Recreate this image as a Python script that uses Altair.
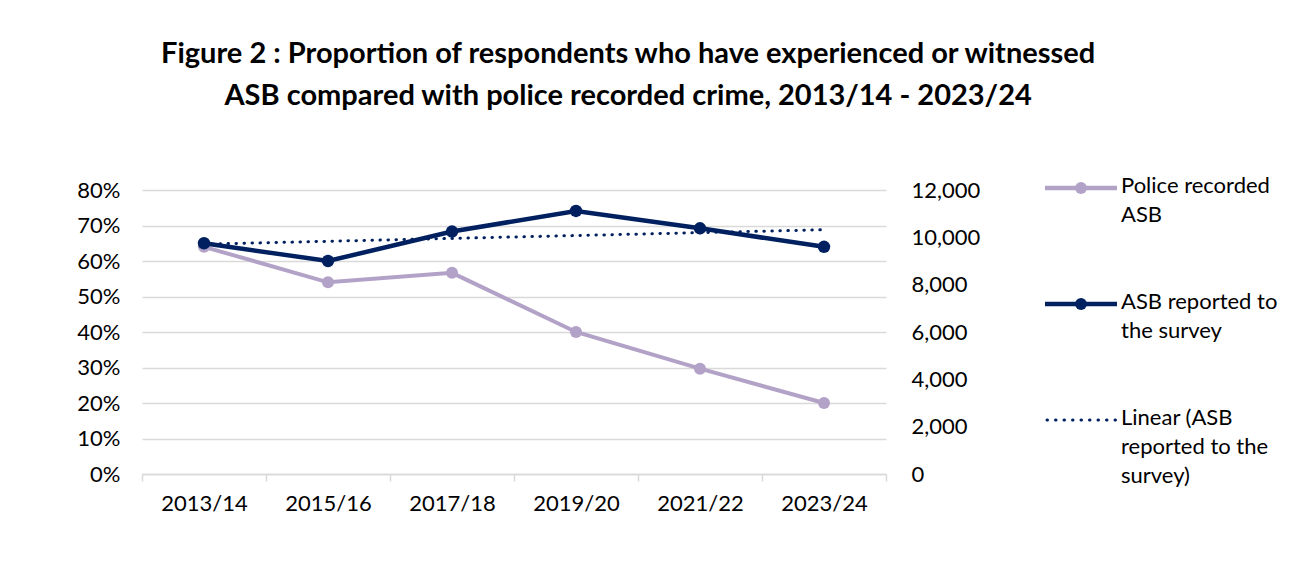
import altair as alt
import pandas as pd

# ---- data ----
years = ["2013/14", "2015/16", "2017/18", "2019/20", "2021/22", "2023/24"]
survey_share = [0.650, 0.600, 0.683, 0.741, 0.692, 0.640]   # left axis (%)
police_asb = [9600, 8100, 8500, 6000, 4450, 3000]            # right axis (count)
left_ticks = [0, 0.1, 0.2, 0.3, 0.4, 0.5, 0.6, 0.7, 0.8]
right_ticks = [0, 2000, 4000, 6000, 8000, 10000, 12000]
legend_keys = ["police", "survey", "trend"]
legend_labels = ["Police recorded\nASB", "ASB reported to\nthe survey",
                 "Linear (ASB\nreported to the\nsurvey)"]
title_lines = ["Figure 2 : Proportion of respondents who have experienced or witnessed",
               "ASB compared with police recorded crime, 2013/14 - 2023/24"]

FONT = "Lato"
NAVY = "#002060"
LAV = "#B3A2C7"
GRID = "#D9D9D9"
TXT = "#000000"

df = pd.DataFrame({"year": years, "idx": list(range(len(years))),
                   "survey": survey_share, "police": police_asb})

x_enc = alt.X(
    "year:N", sort=years, bandPosition=0.5,
    scale=alt.Scale(type="band", paddingInner=0, paddingOuter=0),
    axis=alt.Axis(title=None, labelAngle=0, tickBand="extent", domainColor=GRID,
                  domainWidth=1.5, tickColor=GRID, tickWidth=1.5, tickSize=7,
                  labelPadding=12, labelFontSize=22, labelFont=FONT, labelColor=TXT,
                  grid=False),
)

y_left = alt.Y(
    "survey:Q", scale=alt.Scale(domain=[0, 0.8], nice=False),
    axis=alt.Axis(title=None, orient="left", values=left_ticks, format=".0%", grid=True,
                  gridColor=GRID, gridWidth=1.3, domain=False, ticks=False,
                  labelPadding=22, labelFontSize=22, labelFont=FONT, labelColor=TXT),
)

y_right = alt.Y(
    "police:Q", scale=alt.Scale(domain=[0, 12000], nice=False),
    axis=alt.Axis(title=None, orient="right", values=right_ticks, format=",.0f", grid=False,
                  domain=False, ticks=False, labelPadding=25, labelFontSize=22,
                  labelFont=FONT, labelColor=TXT),
)

police_layer = alt.Chart(df).mark_line(
    color=LAV, strokeWidth=4,
    point=alt.OverlayMarkDef(color=LAV, size=145, filled=True, opacity=1),
).encode(x=x_enc, y=y_right)

survey_layer = alt.Chart(df).mark_line(
    color=NAVY, strokeWidth=4.5,
    point=alt.OverlayMarkDef(color=NAVY, size=155, filled=True, opacity=1),
).encode(x=x_enc, y=y_left)

trend_layer = alt.Chart(df).transform_regression(
    "idx", "survey"
).transform_lookup(
    lookup="idx", from_=alt.LookupData(data=df, key="idx", fields=["year"])
).mark_line(
    color=NAVY, strokeWidth=3, strokeDash=[0.5, 7.5], strokeCap="round"
).encode(x=x_enc, y=y_left)

main = alt.layer(
    police_layer, alt.layer(survey_layer, trend_layer)
).resolve_scale(y="independent").properties(width=744, height=284)

# ---- legend panel ----
leg_df = pd.DataFrame({"key": legend_keys, "label": legend_labels})
ly = alt.Y("key:N", sort=legend_keys,
           scale=alt.Scale(type="point", range=[-2, 230], padding=0), axis=None)
lcolor = alt.Color("key:N", scale=alt.Scale(domain=legend_keys, range=[LAV, NAVY, NAVY]),
                   legend=None)

leg_base = alt.Chart(leg_df)
solid = leg_base.transform_filter(
    alt.FieldOneOfPredicate(field="key", oneOf=["police", "survey"])
).mark_rule(strokeWidth=4.5).encode(x=alt.value(0), x2=alt.value(72), y=ly, color=lcolor)
dots = leg_base.transform_filter(
    alt.FieldOneOfPredicate(field="key", oneOf=["police", "survey"])
).mark_circle(size=140, opacity=1).encode(x=alt.value(36), y=ly, color=lcolor)
dotted = leg_base.transform_filter(
    alt.FieldEqualPredicate(field="key", equal="trend")
).mark_rule(strokeWidth=3, strokeDash=[0.5, 8], strokeCap="round").encode(
    x=alt.value(2), x2=alt.value(72), y=ly, color=lcolor)
texts = leg_base.mark_text(
    align="left", baseline="top", dy=-12, fontSize=22, lineHeight=29, lineBreak="\n",
    font=FONT, color=TXT
).encode(x=alt.value(76), y=ly, text="label:N")

legend_panel = alt.layer(solid, dots, dotted, texts).properties(width=200, height=284)

chart = alt.hconcat(main, legend_panel, spacing=62).properties(
    title=alt.TitleParams(text=title_lines, font=FONT, fontSize=29, fontWeight="bold",
                          color=TXT, anchor="middle", lineHeight=42, offset=64, dx=-49),
    padding={"left": 68, "top": 32, "right": 10, "bottom": 10},
    background="white",
).configure_view(strokeWidth=0)

chart.save("out.html", embed_options={"renderer": "svg", "actions": False})
